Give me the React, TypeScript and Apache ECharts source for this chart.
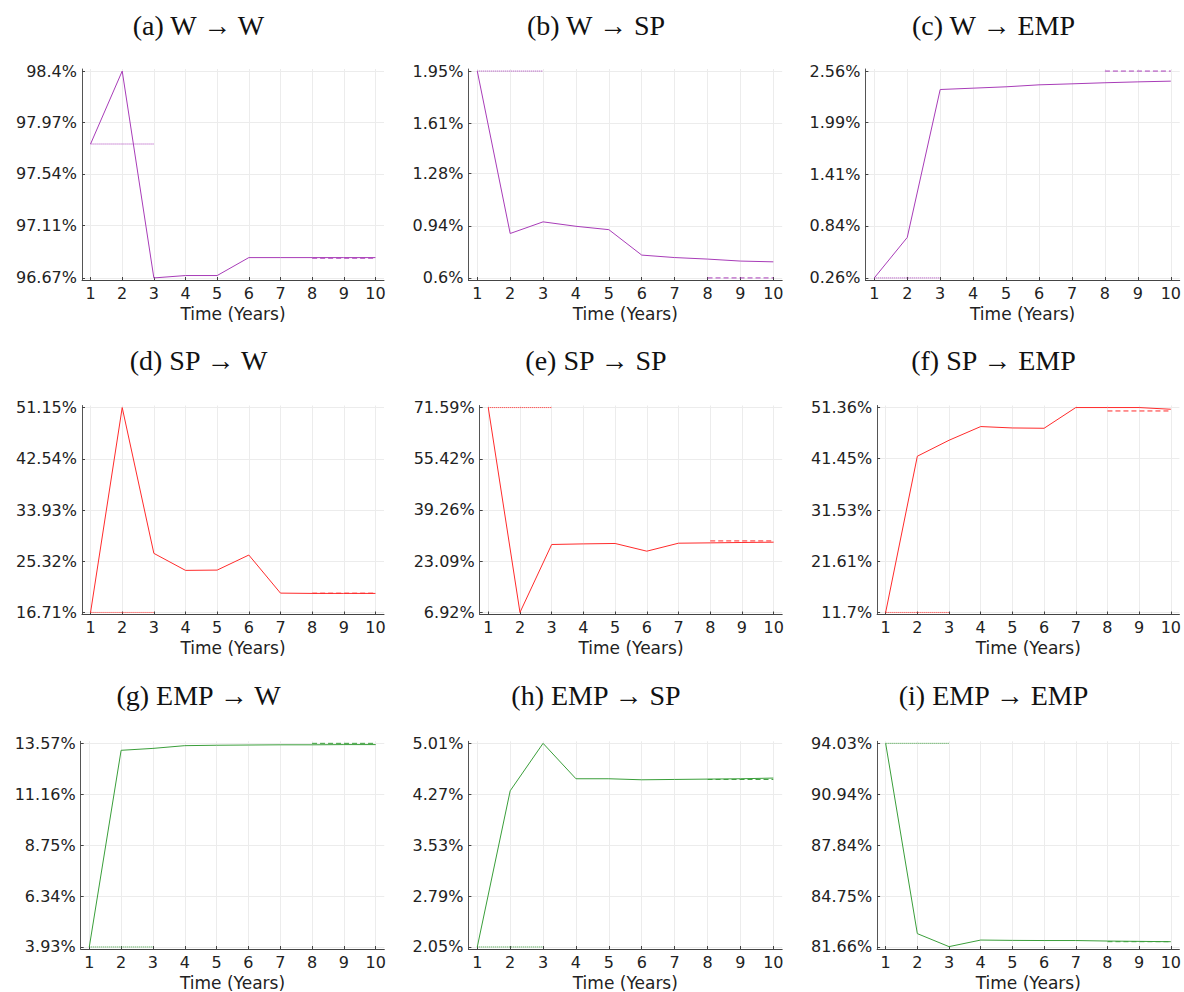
import React, { useEffect, useRef } from "react";
import * as echarts from "echarts";

// ---------- data ----------
const years = [1, 2, 3, 4, 5, 6, 7, 8, 9, 10];
const startYears = [1, 3];
const endYears = [8, 10];

const titles = [
  "(a) W → W",
  "(b) W → SP",
  "(c) W → EMP",
  "(d) SP → W",
  "(e) SP → SP",
  "(f) SP → EMP",
  "(g) EMP → W",
  "(h) EMP → SP",
  "(i) EMP → EMP",
];

// (a) W -> W
const wToW = [97.79, 98.4, 96.67, 96.69, 96.69, 96.84, 96.84, 96.84, 96.84, 96.84];
const wToWStart = 97.79;
const wToWEnd = 96.835;
const wToWTicks = [96.67, 97.11, 97.54, 97.97, 98.4];

// (b) W -> SP
const wToSP = [1.95, 0.89, 0.966, 0.937, 0.915, 0.749, 0.733, 0.723, 0.71, 0.705];
const wToSPStart = 1.95;
const wToSPEnd = 0.6;
const wToSPTicks = [0.6, 0.94, 1.28, 1.61, 1.95];

// (c) W -> EMP
const wToEMP = [0.26, 0.71, 2.355, 2.37, 2.385, 2.407, 2.418, 2.43, 2.44, 2.448];
const wToEMPStart = 0.26;
const wToEMPEnd = 2.56;
const wToEMPTicks = [0.26, 0.84, 1.41, 1.99, 2.56];

// (d) SP -> W
const spToW = [16.71, 51.15, 26.64, 23.78, 23.83, 26.36, 19.96, 19.91, 19.91, 19.91];
const spToWStart = 16.71;
const spToWEnd = 19.95;
const spToWTicks = [16.71, 25.32, 33.93, 42.54, 51.15];

// (e) SP -> SP
const spToSP = [71.59, 6.92, 28.37, 28.56, 28.69, 26.26, 28.78, 28.88, 29.0, 29.1];
const spToSPStart = 71.59;
const spToSPEnd = 29.5;
const spToSPTicks = [6.92, 23.09, 39.26, 55.42, 71.59];

// (f) SP -> EMP
const spToEMP = [11.7, 41.94, 45.03, 47.68, 47.41, 47.35, 51.36, 51.36, 51.36, 51.03];
const spToEMPStart = 11.7;
const spToEMPEnd = 50.7;
const spToEMPTicks = [11.7, 21.61, 31.53, 41.45, 51.36];

// (g) EMP -> W
const empToW = [3.93, 13.24, 13.33, 13.46, 13.48, 13.49, 13.5, 13.5, 13.51, 13.51];
const empToWStart = 3.93;
const empToWEnd = 13.57;
const empToWTicks = [3.93, 6.34, 8.75, 11.16, 13.57];

// (h) EMP -> SP
const empToSP = [2.05, 4.32, 5.01, 4.495, 4.495, 4.48, 4.485, 4.49, 4.495, 4.505];
const empToSPStart = 2.05;
const empToSPEnd = 4.485;
const empToSPTicks = [2.05, 2.79, 3.53, 4.27, 5.01];

// (i) EMP -> EMP
const empToEMP = [94.03, 82.47, 81.68, 82.08, 82.06, 82.05, 82.05, 82.02, 82.0, 81.98];
const empToEMPStart = 94.03;
const empToEMPEnd = 81.98;
const empToEMPTicks = [81.66, 84.75, 87.84, 90.94, 94.03];

const panelValues = [wToW, wToSP, wToEMP, spToW, spToSP, spToEMP, empToW, empToSP, empToEMP];
const panelStarts = [wToWStart, wToSPStart, wToEMPStart, spToWStart, spToSPStart, spToEMPStart, empToWStart, empToSPStart, empToEMPStart];
const panelEnds = [wToWEnd, wToSPEnd, wToEMPEnd, spToWEnd, spToSPEnd, spToEMPEnd, empToWEnd, empToSPEnd, empToEMPEnd];
const panelTicks = [wToWTicks, wToSPTicks, wToEMPTicks, spToWTicks, spToSPTicks, spToEMPTicks, empToWTicks, empToSPTicks, empToEMPTicks];

// ---------- layout / style ----------
const rowColors = ["#a83cb8", "#ff2b2b", "#3a9e3a"];
const rowTops = [69, 405.5, 741.3];
const rowHeights = [211, 209, 209.5];
const titleY = [25, 360, 695];
const titleX = [198.5, 596, 993.5];
const gridLefts = [82, 468.4, 865.4, 82, 479.7, 877.1, 80.7, 468.4, 877.1];
const gridWidths = [302, 313.8, 314.5, 302, 302.5, 303.2, 303.6, 313.8, 303.2];

const X_MIN = 0.73;
const X_MAX = 10.27;

const fmt = (v: number) => `${parseFloat(Number(v).toFixed(2))}%`;

export default function App() {
  const ref = useRef<HTMLDivElement>(null);

  useEffect(() => {
    if (!ref.current) return;
    const chart = echarts.init(ref.current, undefined, { renderer: "svg" });

    const grids: any[] = [];
    const xAxes: any[] = [];
    const yAxes: any[] = [];
    const series: any[] = [];
    const graphics: any[] = [];

    for (let i = 0; i < 9; i++) {
      const row = Math.floor(i / 3);
      const col = i % 3;
      const color = rowColors[row];
      const ticks = panelTicks[i];
      const lo = ticks[0];
      const hi = ticks[ticks.length - 1];
      const pad = (hi - lo) * 0.01;

      grids.push({
        left: gridLefts[i],
        top: rowTops[row],
        width: gridWidths[i],
        height: rowHeights[row],
        containLabel: false,
        show: false,
      });

      xAxes.push({
        type: "value",
        gridIndex: i,
        min: X_MIN,
        max: X_MAX,
        name: "Time (Years)",
        nameLocation: "middle",
        nameGap: 25,
        nameTextStyle: { fontFamily: "DejaVu Sans", fontSize: 17, color: "#222" },
        axisLine: { show: true, onZero: false, lineStyle: { color: "#444", width: 1 } },
        axisTick: { show: true, inside: true, length: 3, lineStyle: { color: "#444" }, customValues: years },
        axisLabel: {
          show: true,
          customValues: years,
          fontFamily: "DejaVu Sans",
          fontSize: 16,
          color: "#222",
          margin: 5,
          formatter: (v: number) => `${v}`,
        },
        splitLine: { show: true, lineStyle: { color: "#ececec", width: 1 } },
      });

      yAxes.push({
        type: "value",
        gridIndex: i,
        min: lo - pad,
        max: hi + pad,
        axisLine: { show: true, onZero: false, lineStyle: { color: "#555", width: 1 } },
        axisTick: { show: true, inside: true, length: 3, lineStyle: { color: "#444" }, customValues: ticks },
        axisLabel: {
          show: true,
          customValues: ticks,
          fontFamily: "DejaVu Sans",
          fontSize: 16,
          color: "#222",
          margin: 5,
          formatter: (v: number) => fmt(v),
        },
        splitLine: { show: true, lineStyle: { color: "#ececec", width: 1 } },
      });

      const vals = panelValues[i];
      series.push({
        type: "line",
        xAxisIndex: i,
        yAxisIndex: i,
        data: years.map((x, j) => [x, vals[j]]),
        symbol: "none",
        lineStyle: { color, width: 1 },
        z: 3,
      });
      series.push({
        type: "line",
        xAxisIndex: i,
        yAxisIndex: i,
        data: startYears.map((x) => [x, panelStarts[i]]),
        symbol: "none",
        lineStyle: { color, width: 1, type: [1, 1] },
        z: 2,
      });
      series.push({
        type: "line",
        xAxisIndex: i,
        yAxisIndex: i,
        data: endYears.map((x) => [x, panelEnds[i]]),
        symbol: "none",
        lineStyle: { color, width: 1, type: [5, 3] },
        z: 2,
      });

      graphics.push({
        type: "text",
        x: titleX[col],
        y: titleY[row],
        style: {
          text: titles[i],
          fontFamily: "Liberation Serif",
          fontSize: 28,
          fill: "#111",
          textAlign: "center",
          textVerticalAlign: "middle",
        },
      });
    }

    chart.setOption({
      animation: false,
      backgroundColor: "#ffffff",
      grid: grids,
      xAxis: xAxes,
      yAxis: yAxes,
      series,
      graphic: graphics,
    });

    return () => chart.dispose();
  }, []);

  return (
    <div
      ref={ref}
      style={{ position: "fixed", left: 0, top: 0, width: 1184, height: 992, background: "#fff" }}
    />
  );
}
